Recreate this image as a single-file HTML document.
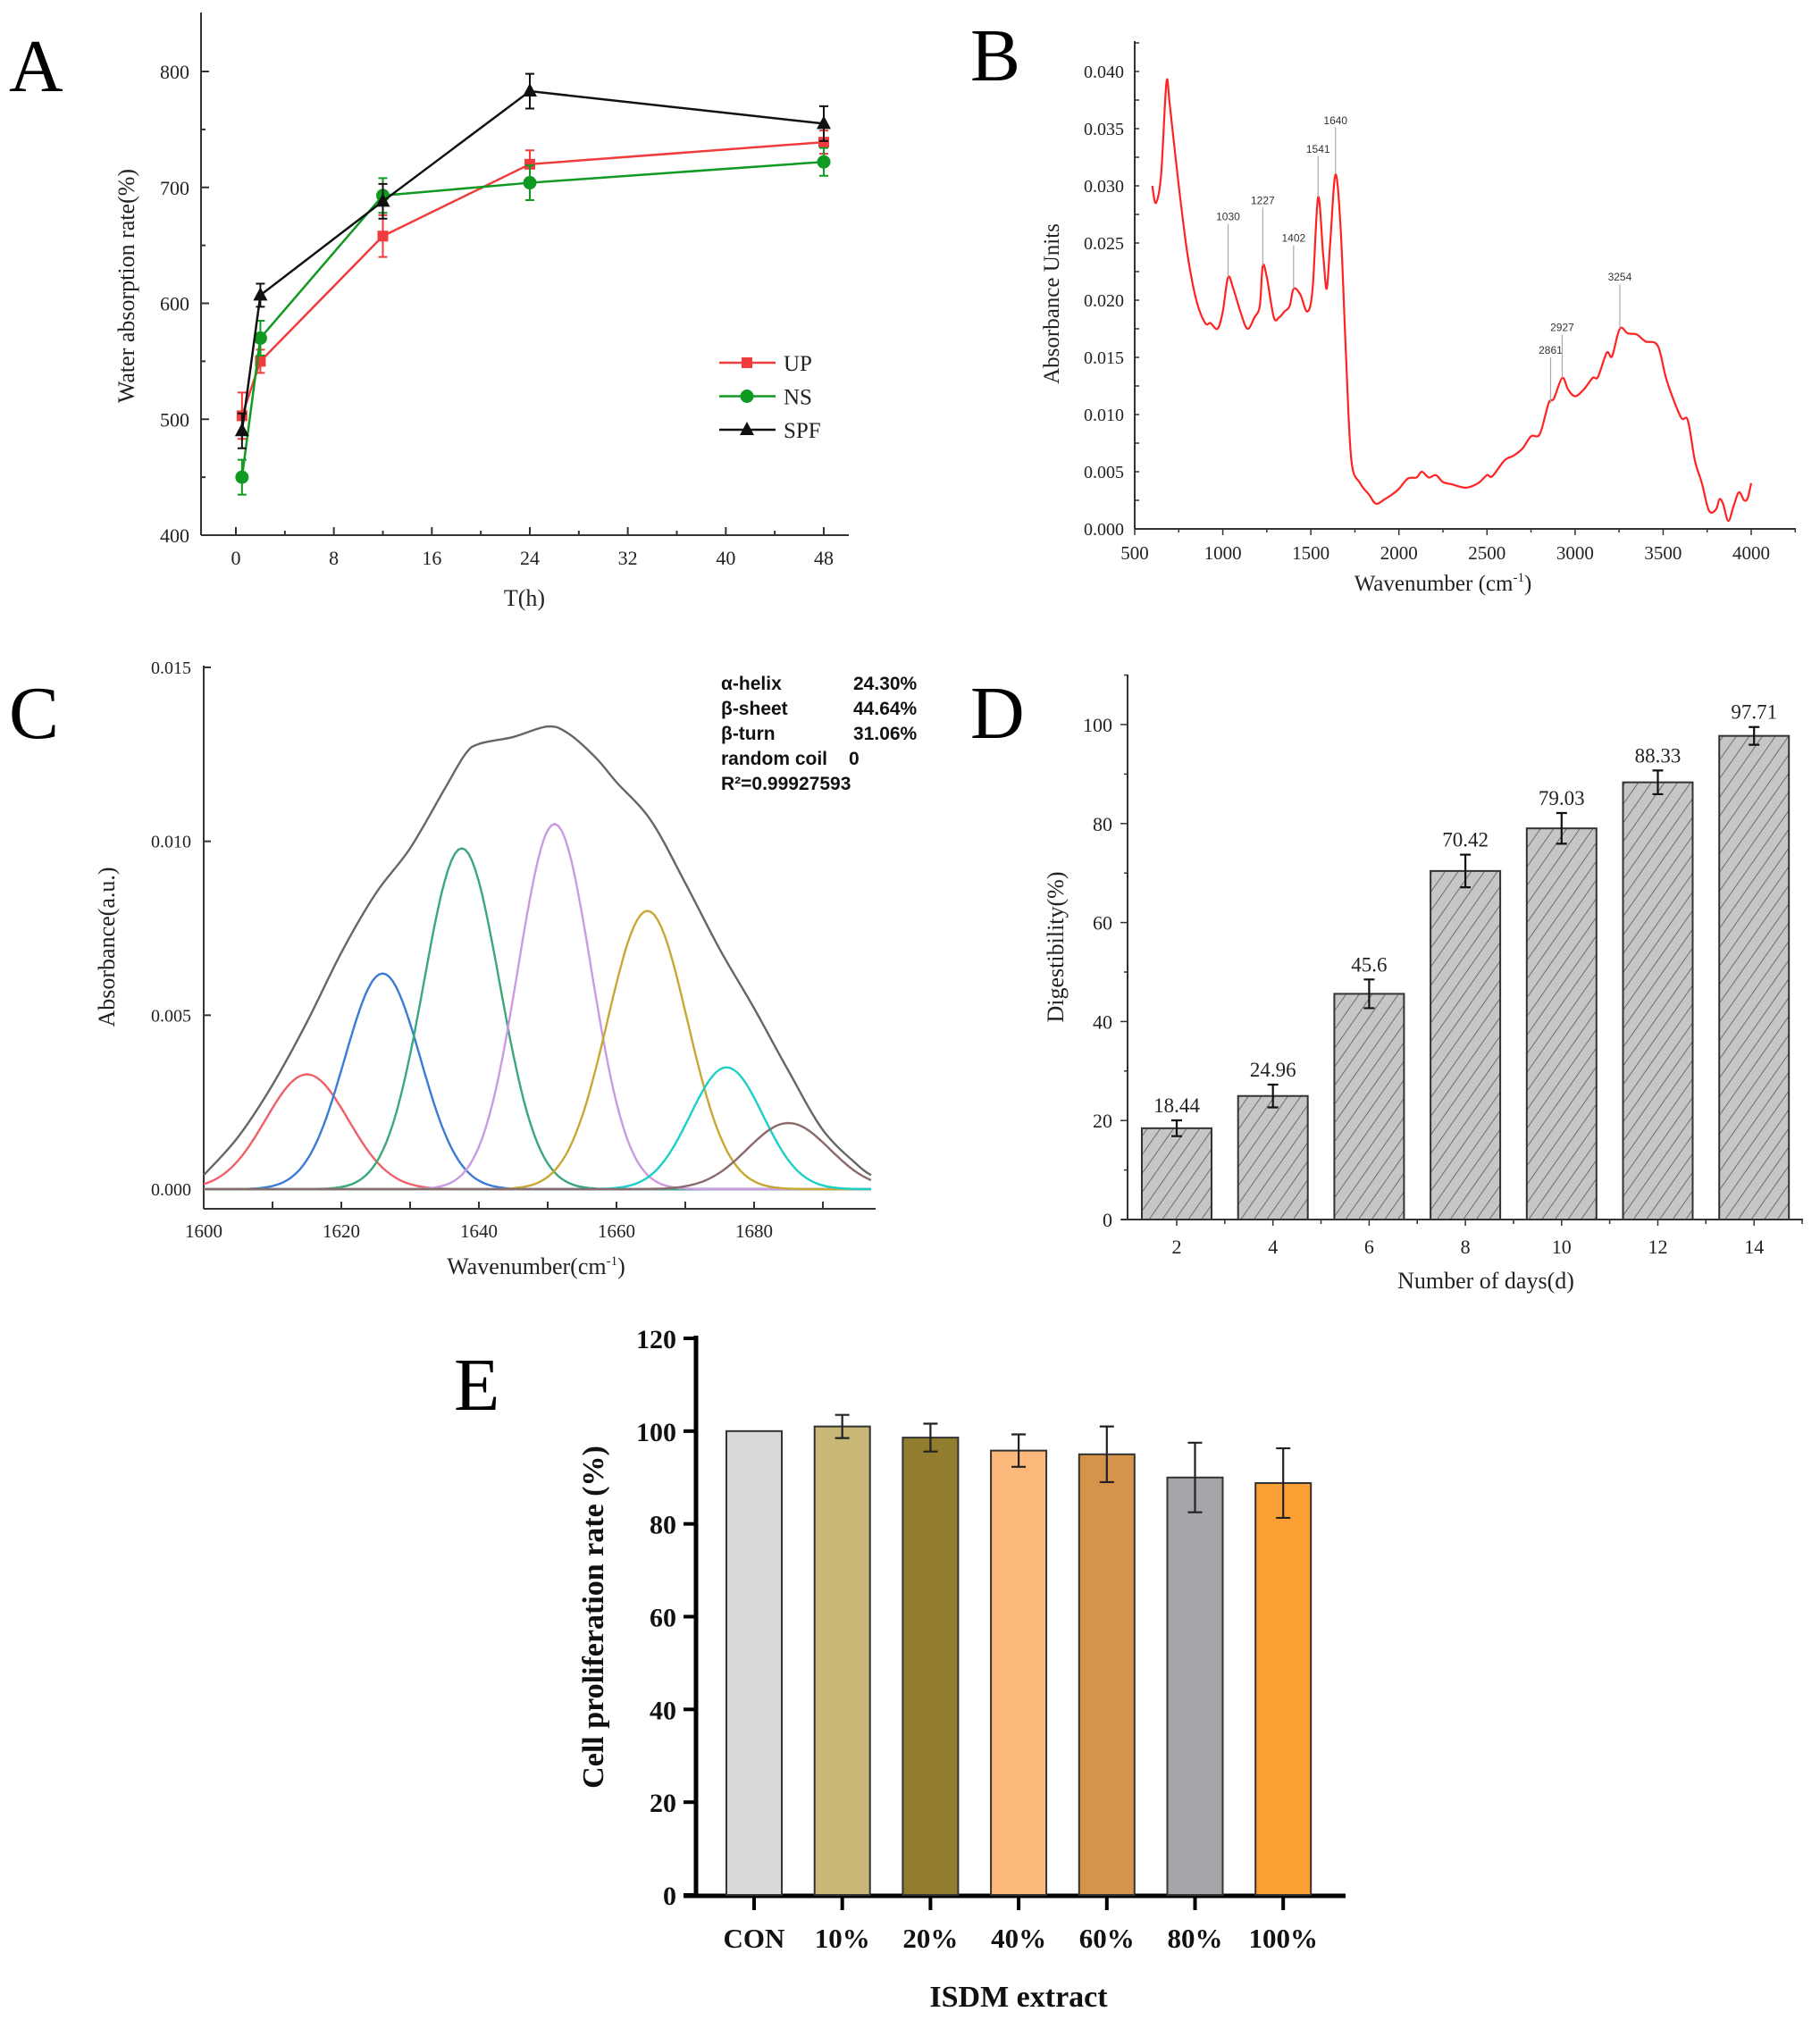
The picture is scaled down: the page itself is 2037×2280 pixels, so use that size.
<!DOCTYPE html>
<html><head><meta charset="utf-8"><style>
html,body{margin:0;padding:0;background:#fff;}
svg{display:block;font-family:"Liberation Serif",serif;}
.sans{font-family:"Liberation Sans",sans-serif;}
</style></head><body>
<svg id="fig" width="2037" height="2280" viewBox="0 0 2037 2280" xmlns="http://www.w3.org/2000/svg">
<defs>
<pattern id="hatch" patternUnits="userSpaceOnUse" width="12" height="12" patternTransform="rotate(35)">
<rect width="12" height="12" fill="#c6c6c6"/>
<line x1="0" y1="0" x2="0" y2="12" stroke="#555" stroke-width="1.6"/>
</pattern>
</defs>
</svg>
<script>
// ---------- Panel A data ----------
const aTimes = [0.5, 2, 12, 24, 48];
const aUP = [503, 550, 658, 720, 739];
const aUPerr = [20, 10, 18, 12, 10];
const aNS = [450, 570, 693, 704, 722];
const aNSerr = [15, 15, 15, 15, 12];
const aSPF = [490, 607, 688, 783, 755];
const aSPFerr = [15, 10, 15, 15, 15];
const aYTicks = [400, 500, 600, 700, 800];
const aXTicks = [0, 8, 16, 24, 32, 40, 48];
const aSeriesNames = ["UP", "NS", "SPF"];
// ---------- Panel B data ----------
const bWave = [600,620,650,680,700,750,800,850,900,930,970,1000,1030,1060,1100,1140,1180,1210,1227,1250,1290,1320,1350,1380,1402,1440,1480,1510,1541,1570,1590,1610,1640,1670,1700,1730,1780,1830,1870,1920,1960,2000,2050,2100,2130,2170,2210,2250,2300,2380,2450,2500,2530,2600,2650,2700,2750,2800,2850,2880,2927,2960,3000,3050,3100,3130,3180,3210,3254,3300,3350,3400,3470,3520,3600,3640,3680,3720,3760,3800,3820,3840,3870,3900,3930,3960,3980,4000];
const bAbs = [0.030,0.0285,0.031,0.039,0.037,0.030,0.024,0.020,0.018,0.018,0.0175,0.019,0.022,0.021,0.019,0.0175,0.0185,0.0195,0.023,0.022,0.0185,0.0185,0.019,0.0195,0.021,0.0205,0.019,0.021,0.029,0.024,0.021,0.025,0.031,0.026,0.015,0.006,0.004,0.003,0.0022,0.0026,0.003,0.0035,0.0044,0.0045,0.005,0.0045,0.0047,0.0041,0.0039,0.0036,0.004,0.0047,0.0046,0.006,0.0064,0.007,0.0081,0.0083,0.011,0.0114,0.0132,0.0122,0.0116,0.0122,0.0132,0.0133,0.0154,0.0151,0.0175,0.0171,0.0170,0.0164,0.016,0.013,0.0098,0.0095,0.006,0.004,0.0016,0.0017,0.0026,0.0022,0.0007,0.002,0.0032,0.0025,0.0027,0.004];
const bPeaks = [1030, 1227, 1402, 1541, 1640, 2861, 2927, 3254];
const bPeakAbs = [0.022, 0.023, 0.021, 0.029, 0.031, 0.011, 0.0132, 0.0175];
const bPeakLabelAbs = [0.0270, 0.0284, 0.0251, 0.0329, 0.0354, 0.0153, 0.0173, 0.0217];
const bYTicks = [0, 0.005, 0.010, 0.015, 0.020, 0.025, 0.030, 0.035, 0.040];
const bXTicks = [500, 1000, 1500, 2000, 2500, 3000, 3500, 4000];
// ---------- Panel C data ----------
const cCenters = [1615, 1626, 1637.5, 1651, 1664.5, 1676, 1685];
const cAmps = [0.0033, 0.0062, 0.0098, 0.0105, 0.0080, 0.0035, 0.0019];
const cWidths = [6, 5.5, 5.5, 5.3, 5.8, 5.3, 6];
const cColors = ["#f0606a", "#3a7bd5", "#3aa87a", "#c99be0", "#c8a834", "#1ccfc8", "#8a6a6a"];
const cEnvX = [1600,1605,1610,1615,1620,1625,1630,1635,1638,1640,1645,1650,1653,1657,1660,1665,1670,1675,1680,1685,1690,1695,1697];
const cEnvY = [0.0004,0.0015,0.003,0.0048,0.0068,0.0085,0.0098,0.0115,0.0125,0.0128,0.0130,0.0133,0.0131,0.0124,0.0117,0.0106,0.0088,0.0069,0.0052,0.0034,0.0017,0.0007,0.0004];
const cYTicks = [0, 0.005, 0.010, 0.015];
const cXTicks = [1600, 1620, 1640, 1660, 1680];
const cStatNames = ["α-helix", "β-sheet", "β-turn", "random coil", "R²=0.99927593"];
const cStatVals = ["24.30%", "44.64%", "31.06%", "0", ""];
// ---------- Panel D data ----------
const dDays = [2, 4, 6, 8, 10, 12, 14];
const dVals = [18.44, 24.96, 45.6, 70.42, 79.03, 88.33, 97.71];
const dErr = [1.6, 2.3, 2.9, 3.3, 3.1, 2.4, 1.8];
const dLabels = ["18.44", "24.96", "45.6", "70.42", "79.03", "88.33", "97.71"];
const dYTicks = [0, 20, 40, 60, 80, 100];
// ---------- Panel E data ----------
const eCats = ["CON", "10%", "20%", "40%", "60%", "80%", "100%"];
const eVals = [100, 101, 98.6, 95.8, 95, 90, 88.8];
const eErr = [0, 2.5, 3, 3.5, 6, 7.5, 7.5];
const eColors = ["#d9d9d9", "#c8b878", "#927c2e", "#fdb97c", "#d6944a", "#a6a6aa", "#fca035"];
const eYTicks = [0, 20, 40, 60, 80, 100, 120];

const NS = "http://www.w3.org/2000/svg";
const svg = document.getElementById('fig');
function el(tag, attrs, parent) {
  const e = document.createElementNS(NS, tag);
  for (const k in attrs) e.setAttribute(k, attrs[k]);
  (parent || svg).appendChild(e);
  return e;
}
function tx(x, y, s, attrs, parent) {
  const e = el('text', Object.assign({x: x, y: y}, attrs || {}), parent);
  e.textContent = s;
  return e;
}
function lin(d0, d1, r0, r1) { return v => r0 + (v - d0) * (r1 - r0) / (d1 - d0); }
function smoothPath(pts) {
  let d = "M" + pts[0][0].toFixed(1) + "," + pts[0][1].toFixed(1);
  for (let i = 0; i < pts.length - 1; i++) {
    const p0 = pts[Math.max(0, i - 1)], p1 = pts[i], p2 = pts[i + 1], p3 = pts[Math.min(pts.length - 1, i + 2)];
    const c1x = p1[0] + (p2[0] - p0[0]) / 6, c1y = p1[1] + (p2[1] - p0[1]) / 6;
    const c2x = p2[0] - (p3[0] - p1[0]) / 6, c2y = p2[1] - (p3[1] - p1[1]) / 6;
    d += ` C${c1x.toFixed(1)},${c1y.toFixed(1)} ${c2x.toFixed(1)},${c2y.toFixed(1)} ${p2[0].toFixed(1)},${p2[1].toFixed(1)}`;
  }
  return d;
}
function group(name) {
  const g = el('g', {});
  
  
  return g;
}

// ================= PANEL A =================
(function () {
  const g = group('panel-a');
  const X = lin(0, 48, 264, 922), Y = lin(400, 800, 599, 80);
  const lt = tx(10, 102, "A", {"font-size": 84}, g);
  
  
  el('line', {x1: 225, y1: 14, x2: 225, y2: 599, stroke: "#333", "stroke-width": 2}, g);
  el('line', {x1: 225, y1: 599, x2: 950, y2: 599, stroke: "#333", "stroke-width": 2}, g);
  for (let v = 400; v <= 800; v += 50) {
    const y = Y(v);
    el('line', {x1: 225, y1: y, x2: aYTicks.includes(v) ? 234 : 230, y2: y, stroke: "#333", "stroke-width": 2}, g);
  }
  aYTicks.forEach(v => {
    const t = tx(212, Y(v) + 8, String(v), {"font-size": 22, "text-anchor": "end", fill: "#222"}, g);
    
    
  });
  for (let v = 0; v <= 48; v += 4) {
    const x = X(v);
    el('line', {x1: x, y1: 599, x2: x, y2: (v % 8 === 0) ? 590 : 594, stroke: "#333", "stroke-width": 2}, g);
  }
  aXTicks.forEach(v => {
    const t = tx(X(v), 632, String(v), {"font-size": 22, "text-anchor": "middle", fill: "#222"}, g);
    
    
  });
  const xt = tx(587, 678, "T(h)", {"font-size": 26, "text-anchor": "middle", fill: "#222"}, g);
  
  
  const yt = tx(0, 0, "Water absorption rate(%)", {"font-size": 26, "text-anchor": "middle", fill: "#222", transform: "translate(150,320) rotate(-90)"}, g);
  
  
  const series = [[aUP, aUPerr, "#f03c3c", "sq"], [aNS, aNSerr, "#119a22", "ci"], [aSPF, aSPFerr, "#111", "tr"]];
  function marker(type, x, y, c, parent) {
    if (type === "sq") return el('rect', {x: x - 6, y: y - 6, width: 12, height: 12, fill: c}, parent);
    if (type === "ci") return el('circle', {cx: x, cy: y, r: 7.5, fill: c}, parent);
    return el('polygon', {points: `${x},${y - 9} ${x - 8},${y + 6} ${x + 8},${y + 6}`, fill: c}, parent);
  }
  series.forEach((s, si) => {
    const [vals, errs, c, m] = s;
    const sg = el('g', {}, g);
    
    
    el('polyline', {points: aTimes.map((t, i) => X(t) + "," + Y(vals[i])).join(" "), fill: "none", stroke: c, "stroke-width": 2.5}, sg);
    aTimes.forEach((t, i) => {
      const x = X(t), y1 = Y(vals[i] + errs[i]), y2 = Y(vals[i] - errs[i]);
      el('path', {d: `M${x},${y1}V${y2}M${x - 5},${y1}H${x + 5}M${x - 5},${y2}H${x + 5}`, stroke: c, "stroke-width": 2, fill: "none"}, sg);
      const mk = marker(m, x, Y(vals[i]), c, sg);
      
      
    });
  });
  const lg = el('g', {}, g);
  
  
  series.forEach((s, si) => {
    const y = 406 + si * 37.5;
    el('line', {x1: 805, y1: y, x2: 868, y2: y, stroke: s[2], "stroke-width": 2.5}, lg);
    marker(s[3], 836, y, s[2], lg);
    const t = tx(877, y + 9, aSeriesNames[si], {"font-size": 25, fill: "#222"}, lg);
    
    
  });
})();

// ================= PANEL B =================
(function () {
  const g = group('panel-b');
  const X = lin(500, 4000, 1270, 1960), Y = lin(0, 0.04, 592, 80);
  const lt = tx(1086, 90, "B", {"font-size": 84}, g);
  
  
  el('line', {x1: 1270, y1: 46, x2: 1270, y2: 592, stroke: "#333", "stroke-width": 2}, g);
  el('line', {x1: 1270, y1: 592, x2: 2010, y2: 592, stroke: "#333", "stroke-width": 2}, g);
  for (let v = 0; v <= 0.0426; v += 0.0025) {
    const y = Y(v);
    el('line', {x1: 1270, y1: y, x2: 1275, y2: y, stroke: "#333", "stroke-width": 1.5}, g);
  }
  bYTicks.forEach(v => {
    const t = tx(1258, Y(v) + 7, v.toFixed(3), {"font-size": 20, "text-anchor": "end", fill: "#222"}, g);
    
    
  });
  for (let v = 500; v <= 4250; v += 250) {
    const x = X(v);
    el('line', {x1: x, y1: 592, x2: x, y2: v % 500 === 0 ? 599 : 596, stroke: "#333", "stroke-width": 1.5}, g);
  }
  bXTicks.forEach(v => {
    const t = tx(X(v), 626, String(v), {"font-size": 21, "text-anchor": "middle", fill: "#222"}, g);
    
    
  });
  const xt = tx(1615, 661, "Wavenumber (cm", {"font-size": 25, "text-anchor": "middle", fill: "#222"}, g);
  
  
  const sup = el('tspan', {"font-size": 15, dy: -10}, xt); sup.textContent = "-1";
  const cl = el('tspan', {dy: 10}, xt); cl.textContent = ")";
  const yt = tx(0, 0, "Absorbance Units", {"font-size": 25, "text-anchor": "middle", fill: "#222", transform: "translate(1185,340) rotate(-90)"}, g);
  
  
  const ln = el('path', {d: smoothPath(bWave.map((w, i) => [X(w), Y(bAbs[i])])), fill: "none", stroke: "#f22", "stroke-width": 2.2, "stroke-linejoin": "round"}, g);
  
  
  bPeaks.forEach((p, i) => {
    el('line', {x1: X(p), y1: Y(bPeakAbs[i]), x2: X(p), y2: Y(bPeakLabelAbs[i]) + 4, stroke: "#aaa", "stroke-width": 1.2}, g);
    const t = tx(X(p), Y(bPeakLabelAbs[i]), String(p), {"font-size": 12, "text-anchor": "middle", fill: "#333", class: "sans"}, g);
    
    
  });
})();

// ================= PANEL C =================
(function () {
  const g = group('panel-c');
  const X = lin(1600, 1680, 228, 844), Y = lin(0, 0.015, 1331, 747);
  const lt = tx(10, 826, "C", {"font-size": 84}, g);
  
  
  el('line', {x1: 228, y1: 745, x2: 228, y2: 1353, stroke: "#333", "stroke-width": 2}, g);
  el('line', {x1: 228, y1: 1353, x2: 980, y2: 1353, stroke: "#333", "stroke-width": 2}, g);
  cYTicks.forEach(v => {
    el('line', {x1: 228, y1: Y(v), x2: 236, y2: Y(v), stroke: "#333", "stroke-width": 2}, g);
    const t = tx(214, Y(v) + 7, v.toFixed(3), {"font-size": 20, "text-anchor": "end", fill: "#222"}, g);
    
    
  });
  for (let v = 1610; v <= 1695; v += 10) {
    el('line', {x1: X(v), y1: 1353, x2: X(v), y2: 1345, stroke: "#333", "stroke-width": 2}, g);
  }
  cXTicks.forEach(v => {
    const t = tx(X(v), 1385, String(v), {"font-size": 21, "text-anchor": "middle", fill: "#222"}, g);
    
    
  });
  const xt = tx(600, 1426, "Wavenumber(cm", {"font-size": 26, "text-anchor": "middle", fill: "#222"}, g);
  
  
  const sup = el('tspan', {"font-size": 15, dy: -10}, xt); sup.textContent = "-1";
  const cl = el('tspan', {dy: 10}, xt); cl.textContent = ")";
  const yt = tx(0, 0, "Absorbance(a.u.)", {"font-size": 26, "text-anchor": "middle", fill: "#222", transform: "translate(128,1060) rotate(-90)"}, g);
  
  
  cCenters.forEach((c, i) => {
    const pts = [];
    for (let w = 1600; w <= 1697; w += 0.5) {
      const v = cAmps[i] * Math.exp(-((w - c) * (w - c)) / (2 * cWidths[i] * cWidths[i]));
      pts.push(X(w).toFixed(1) + "," + Y(v).toFixed(1));
    }
    const p = el('polyline', {points: pts.join(" "), fill: "none", stroke: cColors[i], "stroke-width": 2.4}, g);
    
    
  });
  const env = el('path', {d: smoothPath(cEnvX.map((w, i) => [X(w), Y(cEnvY[i])])), fill: "none", stroke: "#666", "stroke-width": 2.4, "stroke-linejoin": "round"}, g);
  
  
  const sg = el('g', {}, g);
  
  
  cStatNames.forEach((n, i) => {
    const y = 772 + i * 28;
    const t = tx(807, y, n, {"font-size": 21, "font-weight": "bold", fill: "#111", class: "sans"}, sg);
    
    
    if (cStatVals[i]) {
      const vx = i === 3 ? 950 : 955;
      const v = tx(vx, y, cStatVals[i], {"font-size": 21, "font-weight": "bold", fill: "#111", class: "sans"}, sg);
      
      
    }
  });
})();

// ================= PANEL D =================
(function () {
  const g = group('panel-d');
  const Y = lin(0, 100, 1365, 811);
  const X = d => 1317 + (d - 2) / 2 * 107.7;
  const lt = tx(1086, 826, "D", {"font-size": 84}, g);
  
  
  el('line', {x1: 1262, y1: 755, x2: 1262, y2: 1365, stroke: "#333", "stroke-width": 2}, g);
  el('line', {x1: 1255, y1: 1365, x2: 2018, y2: 1365, stroke: "#333", "stroke-width": 2}, g);
  for (let v = 0; v <= 110; v += 10) {
    el('line', {x1: v % 20 === 0 ? 1254 : 1258, y1: Y(v), x2: 1262, y2: Y(v), stroke: "#333", "stroke-width": 1.5}, g);
  }
  dYTicks.forEach(v => {
    const t = tx(1245, Y(v) + 8, String(v), {"font-size": 22, "text-anchor": "end", fill: "#222"}, g);
    
    
  });
  dDays.forEach((d, i) => {
    const x = X(d);
    el('line', {x1: x, y1: 1365, x2: x, y2: 1372, stroke: "#333", "stroke-width": 1.5}, g);
    el('line', {x1: x + 53.8, y1: 1365, x2: x + 53.8, y2: 1370, stroke: "#333", "stroke-width": 1.5}, g);
    const b = el('rect', {x: x - 39, y: Y(dVals[i]), width: 78, height: Y(0) - Y(dVals[i]), fill: "url(#hatch)", stroke: "#333", "stroke-width": 2}, g);
    
    
    const y1 = Y(dVals[i] + dErr[i]), y2 = Y(dVals[i] - dErr[i]);
    el('path', {d: `M${x},${y1}V${y2}M${x - 6},${y1}H${x + 6}M${x - 6},${y2}H${x + 6}`, stroke: "#111", "stroke-width": 2.2, fill: "none"}, g);
    const vl = tx(x, y1 - 9, dLabels[i], {"font-size": 23, "text-anchor": "middle", fill: "#222"}, g);
    
    
    const xl = tx(x, 1403, String(d), {"font-size": 22, "text-anchor": "middle", fill: "#222"}, g);
    
    
  });
  const xt = tx(1663, 1442, "Number of days(d)", {"font-size": 26, "text-anchor": "middle", fill: "#222"}, g);
  
  
  const yt = tx(0, 0, "Digestibility(%)", {"font-size": 26, "text-anchor": "middle", fill: "#222", transform: "translate(1190,1060) rotate(-90)"}, g);
  
  
})();

// ================= PANEL E =================
(function () {
  const g = group('panel-e');
  const Y = lin(0, 120, 2121, 1498);
  const X = i => 844 + i * 98.7;
  const lt = tx(508, 1578, "E", {"font-size": 84}, g);
  
  
  el('line', {x1: 779, y1: 1495, x2: 779, y2: 2124, stroke: "#000", "stroke-width": 5}, g);
  el('line', {x1: 765, y1: 2122, x2: 1506, y2: 2122, stroke: "#000", "stroke-width": 5}, g);
  eYTicks.forEach(v => {
    el('line', {x1: 765, y1: Y(v), x2: 779, y2: Y(v), stroke: "#000", "stroke-width": 4}, g);
    const t = tx(757, Y(v) + 11, String(v), {"font-size": 30, "font-weight": "bold", "text-anchor": "end", fill: "#111"}, g);
    
    
  });
  eCats.forEach((c, i) => {
    const x = X(i);
    const b = el('rect', {x: x - 31, y: Y(eVals[i]), width: 62, height: Y(0) - Y(eVals[i]), fill: eColors[i], stroke: "#333", "stroke-width": 2}, g);
    
    
    if (eErr[i] > 0) {
      const y1 = Y(eVals[i] + eErr[i]), y2 = Y(eVals[i] - eErr[i]);
      el('path', {d: `M${x},${y1}V${y2}M${x - 8},${y1}H${x + 8}M${x - 8},${y2}H${x + 8}`, stroke: "#222", "stroke-width": 2.2, fill: "none"}, g);
    }
    el('line', {x1: x, y1: 2122, x2: x, y2: 2138, stroke: "#000", "stroke-width": 4}, g);
    const xl = tx(x, 2180, c, {"font-size": 31, "font-weight": "bold", "text-anchor": "middle", fill: "#111"}, g);
    
    
  });
  const xt = tx(1140, 2246, "ISDM extract", {"font-size": 34, "font-weight": "bold", "text-anchor": "middle", fill: "#111"}, g);
  
  
  const yt = tx(0, 0, "Cell proliferation rate (%)", {"font-size": 34, "font-weight": "bold", "text-anchor": "middle", fill: "#111", transform: "translate(675,1810) rotate(-90)"}, g);
  
  
})();
</script>
</body></html>
